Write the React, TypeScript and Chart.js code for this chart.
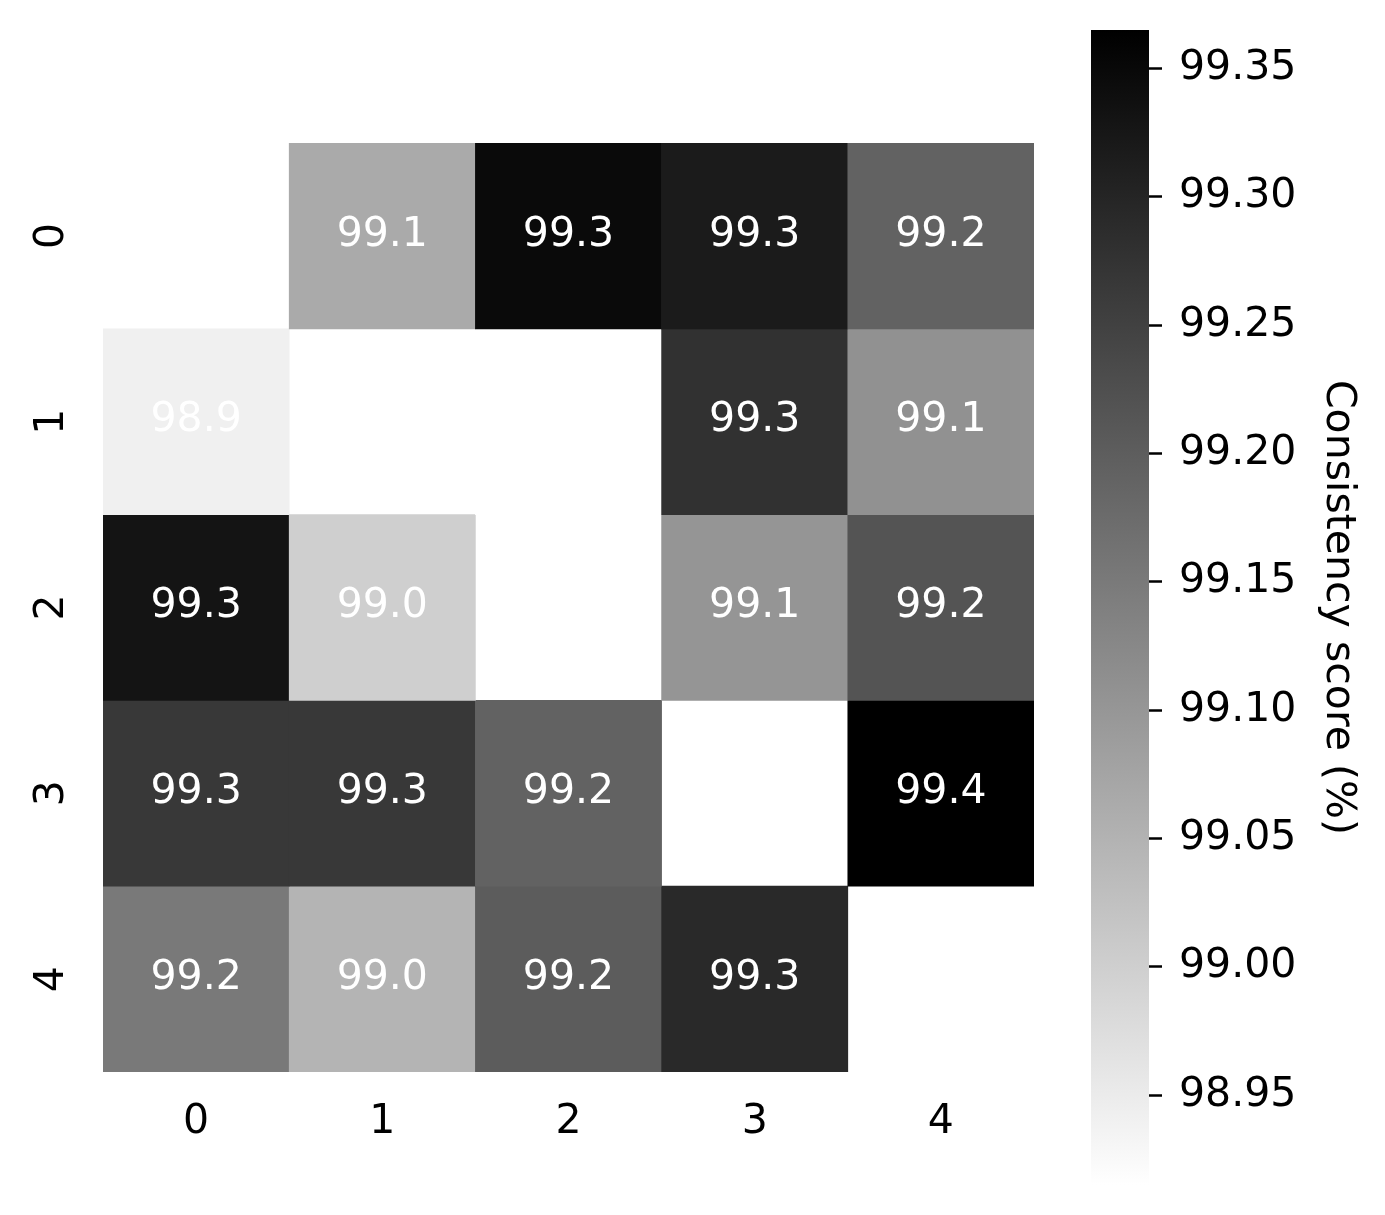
import React, { useEffect, useRef } from 'react';
import { Chart, registerables } from 'chart.js';

Chart.register(...registerables);

// ---- data ----
const rowLabels = ['0', '1', '2', '3', '4'];
const colLabels = ['0', '1', '2', '3', '4'];
const row0: (number | null)[] = [null, 99.065, 99.348, 99.317, 99.192];
const row1: (number | null)[] = [98.941, null, 98.915, 99.279, 99.109];
const row2: (number | null)[] = [99.33, 99.0, null, 99.102, 99.217];
const row3: (number | null)[] = [99.266, 99.266, 99.192, null, 99.365];
const row4: (number | null)[] = [99.151, 99.047, 99.203, 99.293, null];
const colorbarTicks = [98.95, 99.0, 99.05, 99.1, 99.15, 99.2, 99.25, 99.3, 99.35];
const colorbarTitle = 'Consistency score (%)';

const rows = [row0, row1, row2, row3, row4];
const allValues = rows.flat().filter((v): v is number => v != null);
const vmin = Math.min(...allValues);
const vmax = Math.max(...allValues);

const FONT = "'DejaVu Sans', 'Liberation Sans', sans-serif";
const FONT_SIZE = 41;

function grayOf(v: number): string {
  const t = (v - vmin) / (vmax - vmin);
  const g = Math.round(255 * (1 - t));
  return `rgb(${g},${g},${g})`;
}

const annotPlugin = {
  id: 'cellAnnotations',
  afterDatasetsDraw(chart: any) {
    const ctx = chart.ctx;
    ctx.save();
    ctx.font = `${FONT_SIZE}px ${FONT}`;
    ctx.fillStyle = '#ffffff';
    ctx.textAlign = 'center';
    ctx.textBaseline = 'middle';
    rows.forEach((row, r) => {
      const meta = chart.getDatasetMeta(r);
      row.forEach((v, c) => {
        if (v == null) return;
        const el = meta.data[c];
        if (!el) return;
        const p = el.getCenterPoint();
        ctx.fillText(v.toFixed(1), p.x, p.y - 1);
      });
    });
    ctx.restore();
  },
};

export default function App() {
  const heatRef = useRef<HTMLCanvasElement | null>(null);
  const cbRef = useRef<HTMLCanvasElement | null>(null);

  useEffect(() => {
    if (!heatRef.current || !cbRef.current) return;

    const heat = new Chart(heatRef.current, {
      type: 'bar',
      data: {
        labels: colLabels,
        datasets: rows.map((row, r) => ({
          label: rowLabels[r],
          data: row.map((v) => (v == null ? null : [r, r + 1])) as any,
          backgroundColor: row.map((v) => (v == null ? 'rgba(0,0,0,0)' : grayOf(v))),
          borderWidth: 0,
          borderSkipped: false,
          barPercentage: 1,
          categoryPercentage: 1,
          grouped: false,
        })),
      },
      options: {
        responsive: false,
        animation: false,
        devicePixelRatio: 1,
        layout: { padding: { left: 0, right: 26, top: 143, bottom: 0 } },
        plugins: { legend: { display: false }, tooltip: { enabled: false } },
        scales: {
          x: {
            type: 'category',
            position: 'bottom',
            grid: { display: false, drawTicks: false },
            border: { display: false },
            ticks: {
              font: { family: FONT, size: FONT_SIZE },
              color: '#000000',
              padding: 26,
              maxRotation: 0,
              minRotation: 0,
            },
            afterFit: (s: any) => {
              s.height = 143;
              s.paddingLeft = 0;
              s.paddingRight = 0;
            },
          },
          y: {
            type: 'linear',
            min: 0,
            max: 5,
            reverse: true,
            grid: { display: false, drawTicks: false },
            border: { display: false },
            afterBuildTicks: (s: any) => {
              s.ticks = rowLabels.map((_, i) => ({ value: i + 0.5 }));
            },
            ticks: {
              callback: (_v: any, i: number) => rowLabels[i],
              font: { family: FONT, size: FONT_SIZE },
              color: '#000000',
              minRotation: 90,
              maxRotation: 90,
              crossAlign: 'center',
              padding: 38,
              autoSkip: false,
            },
            afterFit: (s: any) => {
              s.width = 103;
              s.paddingTop = 0;
              s.paddingBottom = 0;
            },
          },
        },
      } as any,
      plugins: [annotPlugin],
    });

    const cb = new Chart(cbRef.current, {
      type: 'bar',
      data: {
        labels: [''],
        datasets: [
          {
            data: [[vmin, vmax]] as any,
            backgroundColor: (c: any) => {
              const chart = c.chart;
              if (!chart.chartArea) return '#888888';
              const ys = chart.scales.y;
              const g = chart.ctx.createLinearGradient(
                0,
                ys.getPixelForValue(vmin),
                0,
                ys.getPixelForValue(vmax)
              );
              g.addColorStop(0, '#ffffff');
              g.addColorStop(1, '#000000');
              return g;
            },
            borderWidth: 0,
            borderSkipped: false,
            barPercentage: 1,
            categoryPercentage: 1,
          },
        ],
      },
      options: {
        responsive: false,
        animation: false,
        devicePixelRatio: 1,
        layout: { padding: { left: 31, right: 0, top: 30, bottom: 30 } },
        plugins: { legend: { display: false }, tooltip: { enabled: false } },
        scales: {
          x: { display: false },
          y: {
            type: 'linear',
            position: 'right',
            min: vmin,
            max: vmax,
            afterBuildTicks: (s: any) => {
              s.ticks = colorbarTicks.map((v) => ({ value: v }));
            },
            ticks: {
              callback: (v: any) => Number(v).toFixed(2),
              font: { family: FONT, size: FONT_SIZE },
              color: '#000000',
              padding: 17,
              autoSkip: false,
            },
            grid: {
              display: true,
              drawOnChartArea: false,
              drawTicks: true,
              tickLength: 13,
              tickWidth: 2.5,
              tickColor: '#000000',
            },
            border: { display: false },
            title: {
              display: true,
              text: colorbarTitle,
              font: { family: FONT, size: FONT_SIZE },
              color: '#000000',
              padding: { top: 23, bottom: 0 },
            },
            afterFit: (s: any) => {
              s.width = 236;
              s.paddingTop = 0;
              s.paddingBottom = 0;
            },
          },
        },
      } as any,
    });

    return () => {
      heat.destroy();
      cb.destroy();
    };
  }, []);

  return (
    <div
      style={{
        position: 'fixed',
        left: 0,
        top: 0,
        width: 1385,
        height: 1215,
        background: '#ffffff',
        overflow: 'hidden',
      }}
    >
      <canvas
        ref={heatRef}
        width={1060}
        height={1215}
        style={{ position: 'absolute', left: 0, top: 0, width: 1060, height: 1215 }}
      />
      <canvas
        ref={cbRef}
        width={325}
        height={1215}
        style={{ position: 'absolute', left: 1060, top: 0, width: 325, height: 1215 }}
      />
    </div>
  );
}
